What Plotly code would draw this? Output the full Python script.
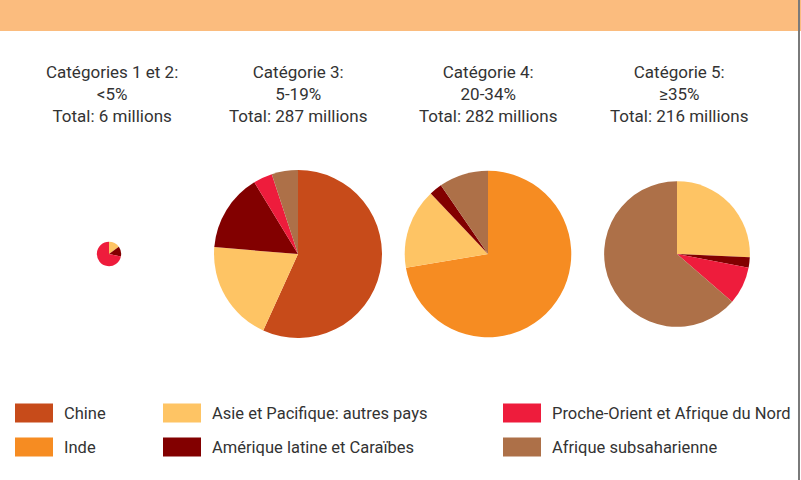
import plotly.graph_objects as go
import math

# ---- data ----
regions = ["Chine", "Inde", "Asie et Pacifique: autres pays",
           "Amérique latine et Caraïbes", "Proche-Orient et Afrique du Nord",
           "Afrique subsaharienne"]
colors = ["#C74B1A", "#F68C22", "#FEC464", "#820000", "#EE1C3C", "#AD7048"]

cat_titles = ["Catégories 1 et 2:<br>&lt;5%<br>Total: 6 millions",
              "Catégorie 3:<br>5-19%<br>Total: 287 millions",
              "Catégorie 4:<br>20-34%<br>Total: 282 millions",
              "Catégorie 5:<br>≥35%<br>Total: 216 millions"]
totals = [6, 287, 282, 216]

# millions per region (Chine, Inde, Asie, Amérique, PO, Afrique)
cat12 = [0, 0, 0.9, 0.8, 4.3, 0]
cat3 = [163, 0, 56, 43, 10.5, 14.5]
cat4 = [0, 204, 44, 7, 0, 27]
cat5 = [0, 0, 55.5, 5, 18, 137.5]
series = [cat12, cat3, cat4, cat5]

# ---- layout ----
W, H = 801, 480
centers_x = [109, 298, 488, 677]
center_y = 254
r_max = 84
title_x = [112, 298, 488, 679]

fig = go.Figure()
for i, vals in enumerate(series):
    r = r_max * math.sqrt(totals[i] / max(totals))
    cx = centers_x[i]
    fig.add_trace(go.Pie(
        labels=regions, values=vals,
        marker=dict(colors=colors, line=dict(width=0)),
        sort=False, direction="clockwise", rotation=0,
        textinfo="none", hoverinfo="label+value",
        showlegend=False,
        domain=dict(x=[(cx - r) / W, (cx + r) / W],
                    y=[(H - center_y - r) / H, (H - center_y + r) / H]),
    ))

shapes = [
    dict(type="rect", xref="paper", yref="paper", x0=0, x1=1,
         y0=(H - 31) / H, y1=1, fillcolor="#FBBC7E", line=dict(width=0), layer="below"),
    dict(type="line", xref="paper", yref="paper", x0=799 / W, x1=799 / W,
         y0=0, y1=1, line=dict(color="#7A7A7A", width=2)),
]
annotations = []
for i, t in enumerate(cat_titles):
    annotations.append(dict(
        x=title_x[i] / W, y=(H - 94) / H, xref="paper", yref="paper",
        text=t, showarrow=False, xanchor="center", yanchor="middle",
        font=dict(family="Roboto", size=17, color="#333333"), align="center"))

# legend built from the region list: 3 columns, 2 rows (column-major)
leg_x = [15, 163, 503]
leg_y = [413, 447]
for k, name in enumerate(regions):
    col, row = k // 2, k % 2
    x0 = leg_x[col]
    yc = leg_y[row]
    shapes.append(dict(type="rect", xref="paper", yref="paper",
                       x0=x0 / W, x1=(x0 + 38) / W,
                       y0=(H - yc - 9.5) / H, y1=(H - yc + 9.5) / H,
                       fillcolor=colors[k], line=dict(width=0)))
    annotations.append(dict(
        x=(x0 + 47) / W, y=(H - yc) / H, xref="paper", yref="paper",
        text=name, showarrow=False, xanchor="left", yanchor="middle",
        font=dict(family="Roboto", size=16.5, color="#333333")))

fig.update_layout(
    width=W, height=H, margin=dict(l=0, r=0, t=0, b=0),
    paper_bgcolor="white", plot_bgcolor="white",
    shapes=shapes, annotations=annotations,
)
fig.write_html("out.html")
